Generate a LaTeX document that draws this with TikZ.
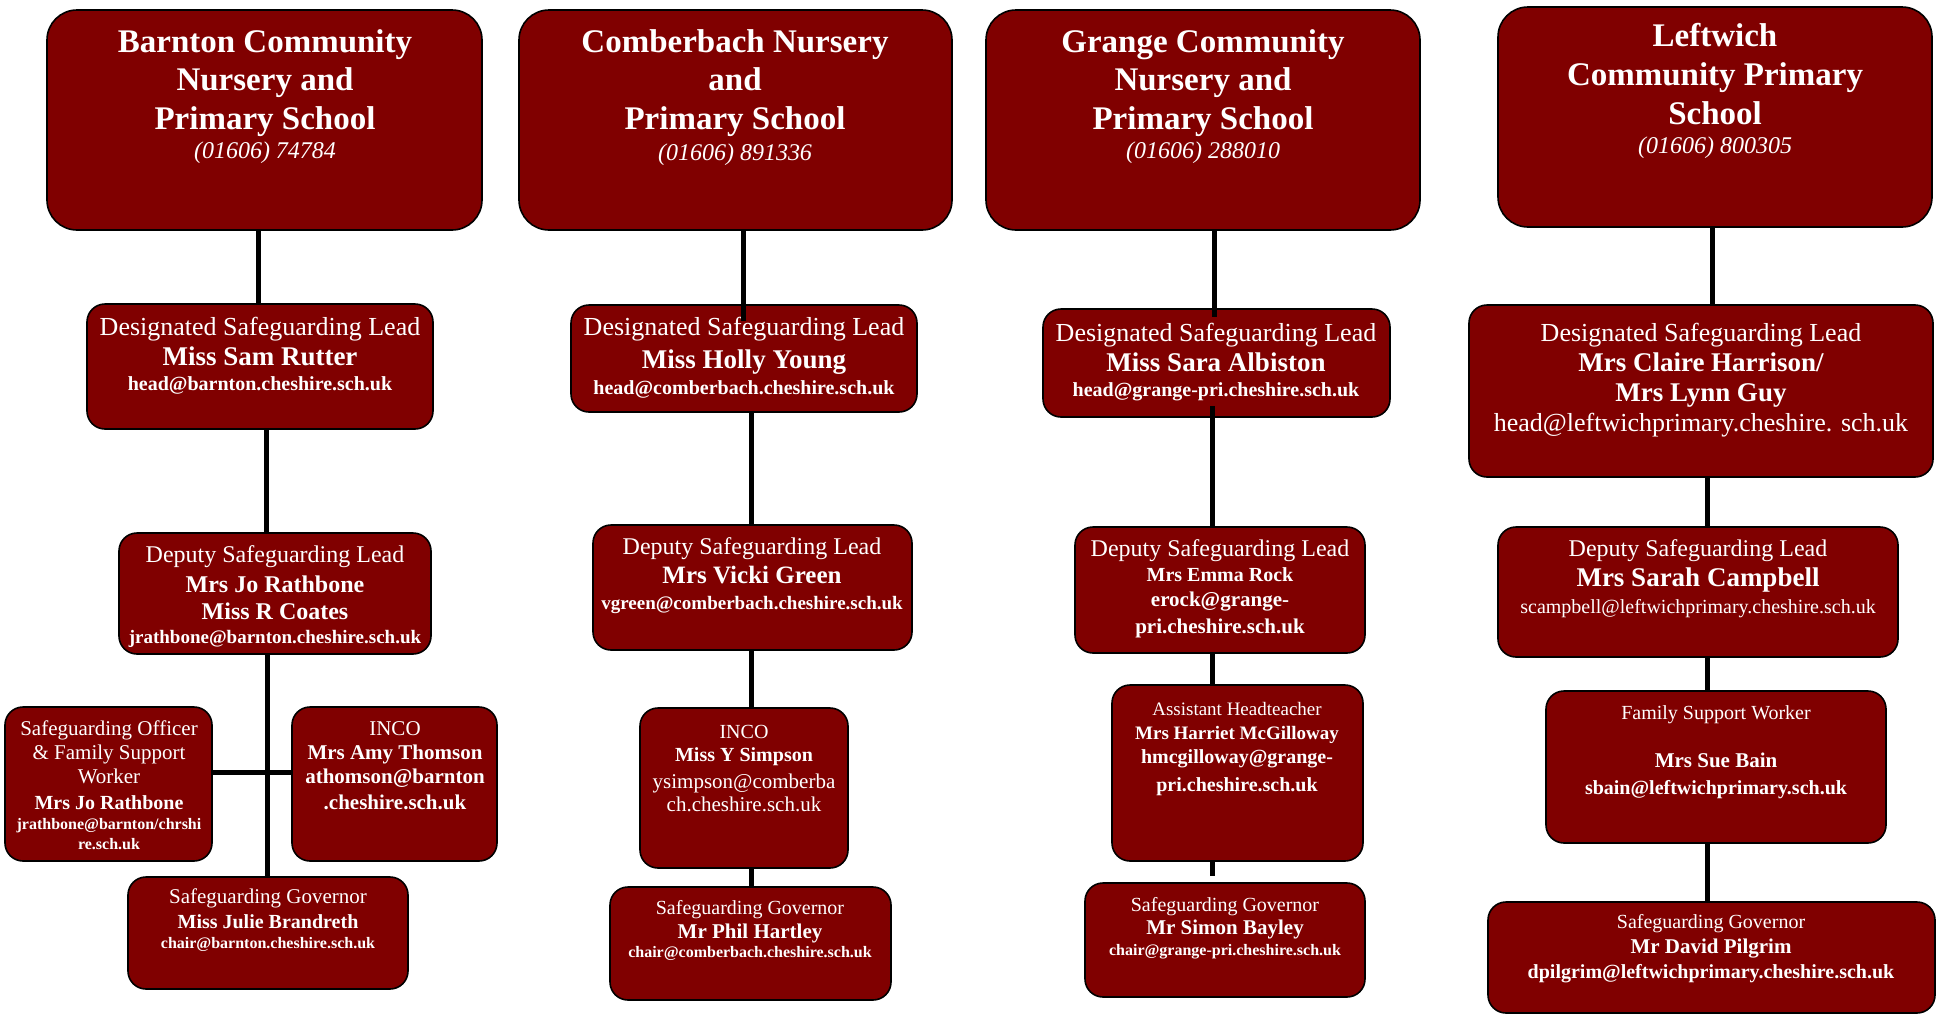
\documentclass[tikz,border=0pt]{standalone}
\usepackage{fontspec}
\setmainfont{Liberation Serif}
\usetikzlibrary{fit,calc}
\definecolor{dkred}{RGB}{128,0,0}
\begin{document}
\begin{tikzpicture}[x=1pt,y=-1pt,
  bx/.style={draw=black, line width=1.6pt, fill=dkred, rounded corners=18pt, inner sep=0pt},
  topbx/.style={bx, rounded corners=30pt},
  conn/.style={line width=5pt, draw=black},
  tl/.style={text=white, inner sep=0pt, anchor=base, yshift=-0.33*#1},
  reg/.style={tl=#1, font=\fontsize{#1}{#1}\selectfont},
  bld/.style={tl=#1, font=\fontsize{#1}{#1}\selectfont\bfseries},
  ita/.style={tl=#1, font=\fontsize{#1}{#1}\selectfont\itshape},
]
\useasboundingbox (0,0) rectangle (1938,1015);
\fill[white] (0,0) rectangle (1938,1015);

% ---------------- Barnton ----------------
\node[topbx, fit={(47,10) (482,230)}] (ba) {};
\node[bx, fit={(87,304) (433,429)}] (bb) {};
\node[bx, fit={(119,533) (431,654)}] (bc) {};
\node[bx, fit={(5,707) (212,861)}] (bd) {};
\node[bx, fit={(292,707) (497,861)}] (be) {};
\node[bx, fit={(128,877) (408,989)}] (bf) {};

\node[bld=33] (bat1) at (265,42) {Barnton Community};
\node[bld=33] (bat2) at (265,80) {Nursery and};
\node[bld=33] (bat3) at (265,119) {Primary School};
\node[ita=24] (bat4) at (265,151) {(01606) 74784};

\node[reg=26] (bbt1) at (260,327) {Designated Safeguarding Lead};
\node[bld=27] (bbt2) at (260,357) {Miss Sam Rutter};
\node[bld=20] (bbt3) at (260,384) {head@barnton.cheshire.sch.uk};

\node[reg=24] (bct1) at (275,555) {Deputy Safeguarding Lead};
\node[bld=24] (bct2) at (275,585) {Mrs Jo Rathbone};
\node[bld=24] (bct3) at (275,612) {Miss R Coates};
\node[bld=19] (bct4) at (275,637) {jrathbone@barnton.cheshire.sch.uk};

\node[reg=21] (bdt1) at (109,729) {Safeguarding Officer};
\node[reg=21] (bdt2) at (109,753) {\& Family Support};
\node[reg=21] (bdt3) at (109,777) {Worker};
\node[bld=20] (bdt4) at (109,803) {Mrs Jo Rathbone};
\node[bld=16] (bdt5) at (109,824) {jrathbone@barnton/chrshi};
\node[bld=16] (bdt6) at (109,844) {re.sch.uk};

\node[reg=21] (bet1) at (395,729) {INCO};
\node[bld=21] (bet2) at (395,753) {Mrs Amy Thomson};
\node[bld=21] (bet3) at (395,777) {athomson@barnton};
\node[bld=21] (bet4) at (395,803) {.cheshire.sch.uk};

\node[reg=21] (bft1) at (268,897) {Safeguarding Governor};
\node[bld=20] (bft2) at (268,922) {Miss Julie Brandreth};
\node[bld=16] (bft3) at (268,943) {chair@barnton.cheshire.sch.uk};

\coordinate (bx1) at (258,0);
\coordinate (bx2) at (266,0);
\coordinate (bx3) at (267,0);
\coordinate (by1) at (0,772);
\draw[conn] (ba.south -| bx1) -- (bb.north -| bx1);
\draw[conn] (bb.south -| bx2) -- (bc.north -| bx2);
\draw[conn] (bc.south -| bx3) -- (bf.north -| bx3);
\draw[conn] (bd.east |- by1) -- (be.west |- by1);

% ---------------- Comberbach ----------------
\node[topbx, fit={(519,10) (952,230)}] (ca) {};
\node[bx, fit={(571,305) (917,412)}] (cb) {};
\node[bx, fit={(593,525) (912,650)}] (cc) {};
\node[bx, fit={(640,708) (848,868)}] (cd) {};
\node[bx, fit={(610,887) (891,1000)}] (ce) {};

\node[bld=33] (cat1) at (735,42) {Comberbach Nursery};
\node[bld=33] (cat2) at (735,80) {and};
\node[bld=33] (cat3) at (735,119) {Primary School};
\node[ita=24] (cat4) at (735,153) {(01606) 891336};

\node[reg=26] (cbt1) at (744,327) {Designated Safeguarding Lead};
\node[bld=27] (cbt2) at (744,360) {Miss Holly Young};
\node[bld=20] (cbt3) at (744,388) {head@comberbach.cheshire.sch.uk};

\node[reg=24] (cct1) at (752,547) {Deputy Safeguarding Lead};
\node[bld=25] (cct2) at (752,575) {Mrs Vicki Green};
\node[bld=19] (cct3) at (752,603) {vgreen@comberbach.cheshire.sch.uk};

\node[reg=20] (cdt1) at (744,732) {INCO};
\node[bld=20] (cdt2) at (744,755) {Miss Y Simpson};
\node[reg=21] (cdt3) at (744,782) {ysimpson@comberba};
\node[reg=21] (cdt4) at (744,805) {ch.cheshire.sch.uk};

\node[reg=20] (cet1) at (750,908) {Safeguarding Governor};
\node[bld=21] (cet2) at (750,932) {Mr Phil Hartley};
\node[bld=16] (cet3) at (750,952) {chair@comberbach.cheshire.sch.uk};

\coordinate (cx1) at (743,0);
\coordinate (cx2) at (751,0);
\draw[conn] (ca.south -| cx1) -- ($(cb.north -| cx1)+(0,17)$);
\draw[conn] (cb.south -| cx2) -- (cc.north -| cx2);
\draw[conn] (cc.south -| cx2) -- (cd.north -| cx2);
\draw[conn] (cd.south -| cx2) -- (ce.north -| cx2);

% ---------------- Grange ----------------
\node[topbx, fit={(986,10) (1420,230)}] (ga) {};
\node[bx, fit={(1043,309) (1390,417)}] (gb) {};
\node[bx, fit={(1075,527) (1365,653)}] (gc) {};
\node[bx, fit={(1112,685) (1363,861)}] (gd) {};
\node[bx, fit={(1085,883) (1365,997)}] (ge) {};

\node[bld=33] (gat1) at (1203,42) {Grange Community};
\node[bld=33] (gat2) at (1203,80) {Nursery and};
\node[bld=33] (gat3) at (1203,119) {Primary School};
\node[ita=24] (gat4) at (1203,151) {(01606) 288010};

\node[reg=26] (gbt1) at (1216,333) {Designated Safeguarding Lead};
\node[bld=27] (gbt2) at (1216,363) {Miss Sara Albiston};
\node[bld=20] (gbt3) at (1216,390) {head@grange-pri.cheshire.sch.uk};

\node[reg=24] (gct1) at (1220,549) {Deputy Safeguarding Lead};
\node[bld=20] (gct2) at (1220,575) {Mrs Emma Rock};
\node[bld=21] (gct3) at (1220,600) {erock@grange-};
\node[bld=21] (gct4) at (1220,627) {pri.cheshire.sch.uk};

\node[reg=19] (gdt1) at (1237,709) {Assistant Headteacher};
\node[bld=19] (gdt2) at (1237,733) {Mrs Harriet McGilloway};
\node[bld=20] (gdt3) at (1237,757) {hmcgilloway@grange-};
\node[bld=20] (gdt4) at (1237,785) {pri.cheshire.sch.uk};

\node[reg=20] (get1) at (1225,905) {Safeguarding Governor};
\node[bld=21] (get2) at (1225,928) {Mr Simon Bayley};
\node[bld=16] (get3) at (1225,950) {chair@grange-pri.cheshire.sch.uk};

\coordinate (gx1) at (1214,0);
\coordinate (gx2) at (1212,0);
\coordinate (gend) at (1212,876);
\draw[conn] (ga.south -| gx1) -- ($(gb.north -| gx1)+(0,9)$);
\draw[conn] ($(gb.south -| gx2)+(0,-12)$) -- (gc.north -| gx2);
\draw[conn] (gc.south -| gx2) -- (gd.north -| gx2);
\draw[conn] (gd.south -| gx2) -- (gend);

% ---------------- Leftwich ----------------
\node[topbx, fit={(1498,7) (1932,227)}] (la) {};
\node[bx, fit={(1469,305) (1933,477)}] (lb) {};
\node[bx, fit={(1498,527) (1898,657)}] (lc) {};
\node[bx, fit={(1546,691) (1886,843)}] (ld) {};
\node[bx, fit={(1488,902) (1935,1013)}] (le) {};

\node[bld=33] (lat1) at (1715,36) {Leftwich};
\node[bld=33] (lat2) at (1715,75) {Community Primary};
\node[bld=33] (lat3) at (1715,114) {School};
\node[ita=24] (lat4) at (1715,146) {(01606) 800305};

\node[reg=26] (lbt1) at (1701,333) {Designated Safeguarding Lead};
\node[bld=27] (lbt2) at (1701,363) {Mrs Claire Harrison/};
\node[bld=27] (lbt3) at (1701,393) {Mrs Lynn Guy};
\node[reg=26] (lbt4) at (1701,423) {head@leftwichprimary.cheshire. sch.uk};

\node[reg=24] (lct1) at (1698,549) {Deputy Safeguarding Lead};
\node[bld=27] (lct2) at (1698,578) {Mrs Sarah Campbell};
\node[reg=20] (lct3) at (1698,607) {scampbell@leftwichprimary.cheshire.sch.uk};

\node[reg=20] (ldt1) at (1716,713) {Family Support Worker};
\node[bld=21] (ldt2) at (1716,761) {Mrs Sue Bain};
\node[bld=20] (ldt3) at (1716,788) {sbain@leftwichprimary.sch.uk};

\node[reg=20] (let1) at (1711,922) {Safeguarding Governor};
\node[bld=21] (let2) at (1711,947) {Mr David Pilgrim};
\node[bld=20] (let3) at (1711,972) {dpilgrim@leftwichprimary.cheshire.sch.uk};

\coordinate (lx1) at (1712,0);
\coordinate (lx2) at (1707,0);
\draw[conn] (la.south -| lx1) -- (lb.north -| lx1);
\draw[conn] (lb.south -| lx2) -- (lc.north -| lx2);
\draw[conn] (lc.south -| lx2) -- (ld.north -| lx2);
\draw[conn] (ld.south -| lx2) -- (le.north -| lx2);
\end{tikzpicture}
\end{document}
